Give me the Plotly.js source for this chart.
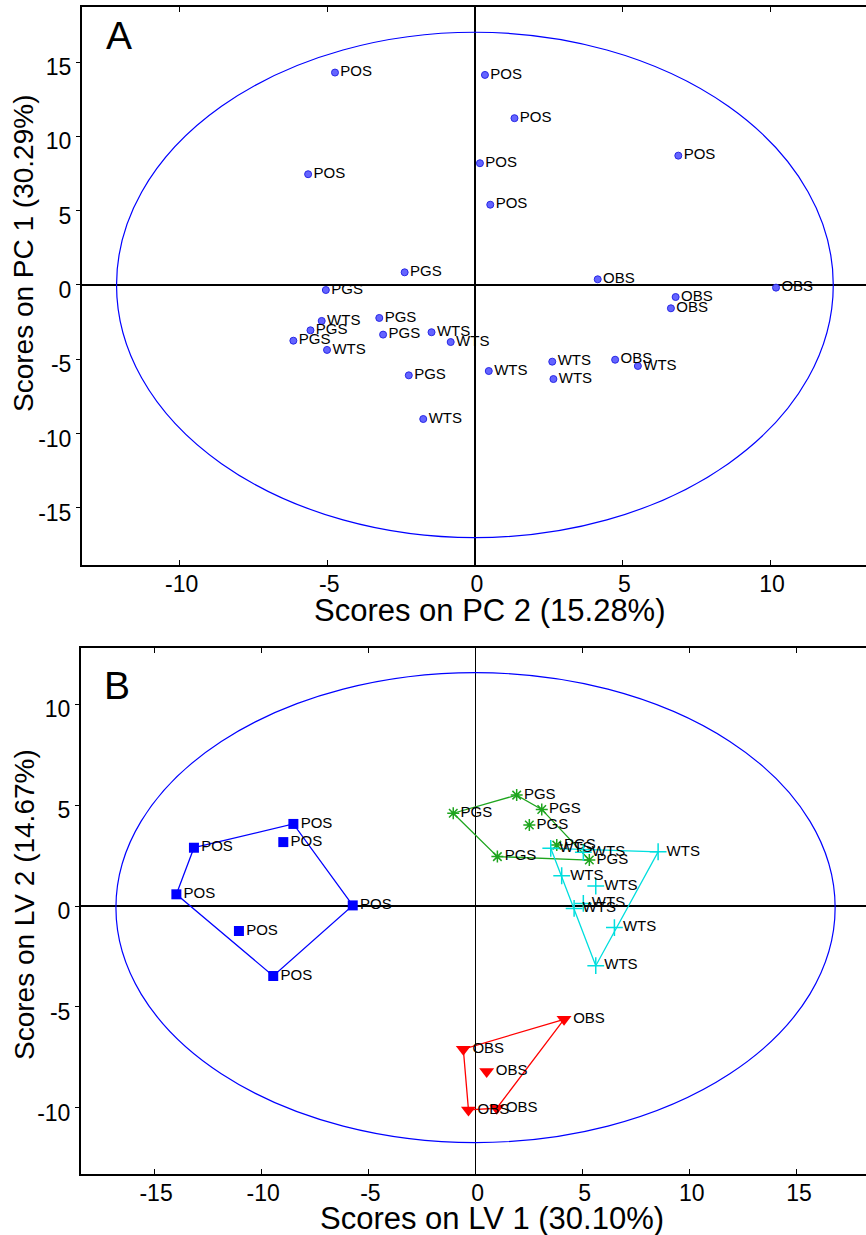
<!DOCTYPE html>
<html>
<head>
<meta charset="utf-8">
<script src="https://cdn.plot.ly/plotly-3.0.1.min.js"></script>
<style>
html,body{margin:0;padding:0;overflow:hidden;background:#fff;}
#chart{width:872px;height:1235px;}
</style>
</head>
<body>
<div id="chart"></div>
<script>
// ---------- Panel A: PCA scores ----------
const pcaLabels = ["POS","POS","POS","POS","POS","POS","POS",
                   "PGS","PGS","PGS","PGS","PGS","PGS","PGS",
                   "OBS","OBS","OBS","OBS","OBS",
                   "WTS","WTS","WTS","WTS","WTS","WTS","WTS","WTS","WTS"];
const pcaPC2 = [-4.74, 0.34, 1.34, -5.65, 0.17, 0.52, 6.89,
                -2.38, -5.05, -3.24, -5.57, -3.11, -6.15, -2.24,
                4.16, 10.20, 6.80, 6.64, 4.75,
                -5.19, -1.47, -0.82, -5.01, 0.47, 2.62, 2.66, 5.52, -1.75];
const pcaPC1 = [14.29, 14.13, 11.22, 7.45, 8.19, 5.40, 8.70,
                0.85, -0.34, -2.22, -3.05, -3.34, -3.75, -6.08,
                0.38, -0.18, -0.81, -1.57, -5.03,
                -2.42, -3.18, -3.84, -4.37, -5.79, -5.16, -6.33, -5.45, -9.02];
const pcaEllipse = [12.14, 17.0];   // semi-axes (PC2, PC1)

// ---------- Panel B: PLS-DA scores ----------
const posLV1 = [-8.50, -8.97, -13.14, -13.96, -5.73, -11.04, -9.44];
const posLV2 = [4.07, 3.17, 2.89, 0.58, 0.03, -1.24, -3.47];
const posHull = [2, 0, 4, 6, 3, 2];

const pgsLV1 = [1.92, -1.04, 3.09, 2.51, 3.79, 5.31, 1.02];
const pgsLV2 = [5.50, 4.60, 4.79, 4.02, 3.02, 2.28, 2.45];
const pgsHull = [1, 0, 2, 5, 6, 1];

const wtsLV1 = [3.51, 5.03, 8.52, 4.02, 5.61, 5.03, 4.60, 6.48, 5.61];
const wtsLV2 = [2.86, 2.66, 2.69, 1.50, 0.99, 0.13, -0.12, -1.07, -2.96];
const wtsHull = [0, 2, 8, 0];

const obsLV1 = [4.13, -0.57, 0.52, -0.33, 0.99];
const obsLV2 = [-5.62, -7.10, -8.21, -10.11, -10.03];
const obsHull = [0, 1, 3, 4, 0];

const plsEllipse = [16.78, 11.65, -0.08]; // semi-axes (LV1, LV2), centre LV2

const xTicksA = [-10, -5, 0, 5, 10];
const yTicksA = [-15, -10, -5, 0, 5, 10, 15];
const xTicksB = [-15, -10, -5, 0, 5, 10, 15];
const yTicksB = [-10, -5, 0, 5, 10];

const FONT = "Liberation Sans, Arial, Helvetica, sans-serif";
const labelFont = {family: FONT, size: 15, color: "#000"};

function pick(arr, idx){ return idx.map(i => arr[i]); }
function rep(s, n){ return Array(n).fill(s); }

const traces = [];

traces.push({
  type: "scatter", mode: "markers+text", xaxis: "x", yaxis: "y",
  x: pcaPC2, y: pcaPC1, text: pcaLabels, textposition: "middle right",
  textfont: labelFont,
  marker: {symbol: "circle", size: 7, color: "rgb(100,100,255)", line: {color: "rgb(40,40,230)", width: 1}},
  hoverinfo: "skip"
});

const groupsB = [
  {x: posLV1, y: posLV2, hull: posHull, name: "POS", color: "#0000ff",
   marker: {symbol: "square", size: 10, color: "#0000ff", line: {width: 0}}},
  {x: pgsLV1, y: pgsLV2, hull: pgsHull, name: "PGS", color: "#1ea51e",
   marker: {symbol: "asterisk-open", size: 10, color: "#1ea51e", line: {color: "#1ea51e", width: 1.5}}},
  {x: wtsLV1, y: wtsLV2, hull: wtsHull, name: "WTS", color: "#00dede",
   marker: {symbol: "cross-thin-open", size: 12, color: "#00dede", line: {color: "#00dede", width: 1.5}}},
  {x: obsLV1, y: obsLV2, hull: obsHull, name: "OBS", color: "#ff0000",
   marker: {symbol: "triangle-down", size: 13, color: "#ff0000", line: {width: 0}}}
];

groupsB.forEach(g => {
  traces.push({
    type: "scatter", mode: "lines", xaxis: "x2", yaxis: "y2",
    x: pick(g.x, g.hull), y: pick(g.y, g.hull),
    line: {color: g.color, width: 1.3}, hoverinfo: "skip"
  });
});
groupsB.forEach(g => {
  traces.push({
    type: "scatter", mode: "markers+text", xaxis: "x2", yaxis: "y2",
    x: g.x, y: g.y, text: rep(g.name, g.x.length), textposition: "middle right",
    textfont: labelFont, marker: g.marker, hoverinfo: "skip"
  });
});

const W = 872, H = 1235;
const axCommon = {
  showgrid: false, showline: true, linecolor: "#000", linewidth: 2,
  zeroline: true, zerolinecolor: "#000", zerolinewidth: 1.5,
  tickcolor: "#000", tickwidth: 1,
  tickfont: {family: FONT, size: 23, color: "#000"},
  mirror: "ticks", fixedrange: true
};

const layout = {
  width: W, height: H,
  margin: {l: 0, r: 0, t: 0, b: 0},
  paper_bgcolor: "#fff", plot_bgcolor: "#fff",
  showlegend: false,
  font: {family: FONT, color: "#000"},
  xaxis: Object.assign({}, axCommon, {
    domain: [82 / W, 869 / W], range: [-13.31, 13.35], anchor: "y",
    tickmode: "array", tickvals: xTicksA, ticktext: xTicksA.map(String),
    ticks: "inside", ticklen: 5, ticklabelshift: 2, ticklabelstandoff: -3
  }),
  yaxis: Object.assign({}, axCommon, {
    domain: [1 - 565 / H, 1 - 7 / H], range: [-18.84, 18.7], anchor: "x",
    tickmode: "array", tickvals: yTicksA, ticktext: yTicksA.map(String),
    ticks: "outside", ticklen: 4, ticklabelshift: 5
  }),
  xaxis2: Object.assign({}, axCommon, {
    domain: [81 / W, 869 / W], range: [-18.41, 18.36], anchor: "y2",
    tickmode: "array", tickvals: xTicksB, ticktext: xTicksB.map(String),
    ticks: "inside", ticklen: 5, ticklabelshift: 2, ticklabelstandoff: -3
  }),
  yaxis2: Object.assign({}, axCommon, {
    domain: [1 - 1174 / H, 1 - 648.3 / H], range: [-13.29, 12.78], anchor: "x2",
    tickmode: "array", tickvals: yTicksB, ticktext: yTicksB.map(String),
    ticks: "outside", ticklen: 4, ticklabelshift: 5
  }),
  shapes: [
    {type: "circle", xref: "x", yref: "y", x0: -pcaEllipse[0], x1: pcaEllipse[0],
     y0: -pcaEllipse[1], y1: pcaEllipse[1], line: {color: "#0000ff", width: 1.2}, layer: "above"},
    {type: "circle", xref: "x2", yref: "y2", x0: -plsEllipse[0], x1: plsEllipse[0],
     y0: plsEllipse[2] - plsEllipse[1], y1: plsEllipse[2] + plsEllipse[1],
     line: {color: "#0000ff", width: 1.2}, layer: "above"}
  ],
  annotations: [
    {text: "A", xref: "x", yref: "y", x: -12.05, y: 16.75, xanchor: "center", yanchor: "middle",
     showarrow: false, font: {family: FONT, size: 39, color: "#000"}},
    {text: "B", xref: "x2", yref: "y2", x: -16.75, y: 10.95, xanchor: "center", yanchor: "middle",
     showarrow: false, font: {family: FONT, size: 39, color: "#000"}},
    {text: "Scores on PC 2 (15.28%)", xref: "paper", yref: "paper", x: 490 / W, y: 1 - 610 / H,
     xanchor: "center", yanchor: "middle", showarrow: false, font: {family: FONT, size: 31, color: "#000"}},
    {text: "Scores on PC 1 (30.29%)", xref: "paper", yref: "paper", x: 24 / W, y: 1 - 253 / H,
     xanchor: "center", yanchor: "middle", textangle: -90, showarrow: false,
     font: {family: FONT, size: 28, color: "#000"}},
    {text: "Scores on LV 1 (30.10%)", xref: "paper", yref: "paper", x: 492 / W, y: 1 - 1218 / H,
     xanchor: "center", yanchor: "middle", showarrow: false, font: {family: FONT, size: 31, color: "#000"}},
    {text: "Scores on LV 2 (14.67%)", xref: "paper", yref: "paper", x: 24 / W, y: 1 - 905 / H,
     xanchor: "center", yanchor: "middle", textangle: -90, showarrow: false,
     font: {family: FONT, size: 28, color: "#000"}}
  ]
};

Plotly.newPlot("chart", traces, layout, {staticPlot: true, displayModeBar: false});
</script>
</body>
</html>
